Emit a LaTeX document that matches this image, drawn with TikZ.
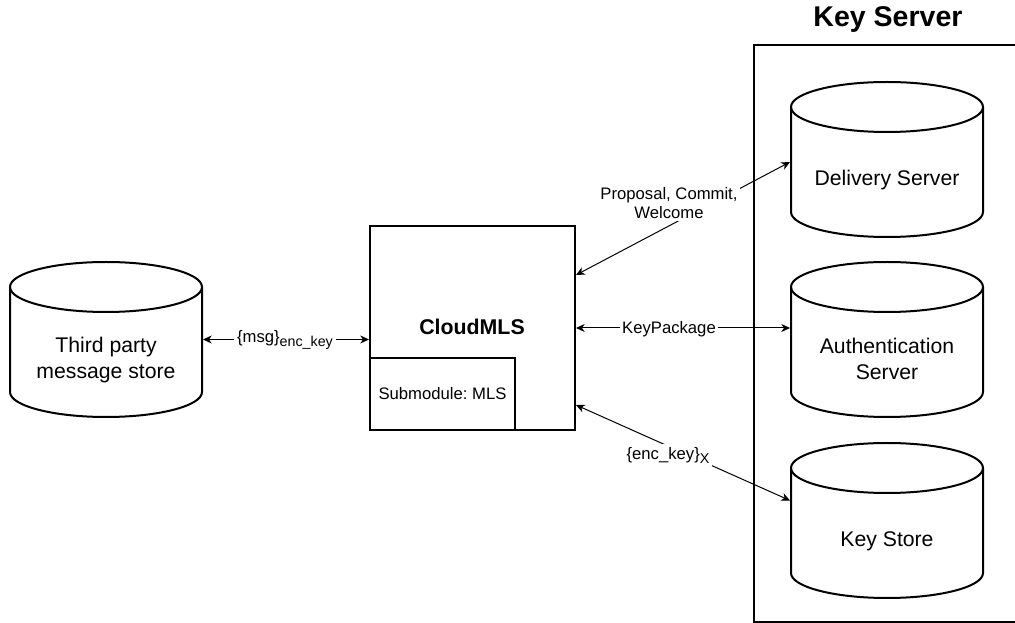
\documentclass[tikz,border=0pt]{standalone}
\usepackage{fontspec}
\setmainfont{Liberation Sans}
\usetikzlibrary{arrows.meta,calc}
\frenchspacing
\newcommand\dbcyl[3]{%
  \draw[shapeline, fill=white] (#1-96,#2+25) -- (#1-96,#3-25)
    arc[start angle=180,end angle=0,x radius=72pt,y radius=18.75pt]
    -- (#1+96,#2+25)
    arc[start angle=0,end angle=-180,x radius=72pt,y radius=18.75pt] -- cycle;
  \draw[shapeline] (#1-96,#2+25) arc[start angle=180,end angle=0,x radius=72pt,y radius=18.75pt];
}
\newcommand\lowsub[1]{\raisebox{-3pt}{\fontsize{10.7}{12}\selectfont #1}}
\begin{document}
\begin{tikzpicture}[x=0.75pt,y=0.75pt,yscale=-1,
  shapeline/.style={line width=1.5pt, draw=black},
  conn/.style={line width=0.75pt, {Stealth[length=6.5pt,width=6pt,inset=2pt]}-{Stealth[length=6.5pt,width=6pt,inset=2pt]}},
  lbl/.style={fill=white, inner sep=2pt, align=center, font=\fontsize{12.5}{14.5}\selectfont},
  cylbox/.style={minimum width=144pt, minimum height=116.25pt, inner sep=0pt, outer sep=0.75pt},
  cyltext/.style={align=center, font=\fontsize{15.9}{19.5}\selectfont}]
\useasboundingbox (0,0) rectangle (1015,623);

% Key Server container
\draw[shapeline] (1017,45) -- (754,45) -- (754,622) -- (1017,622);
\node[font=\bfseries\fontsize{21.4}{24}\selectfont, anchor=base] (kstitle) at (888,27) {Key Server};

% cylinders
\dbcyl{106}{262}{417}
\dbcyl{887}{82}{237}
\dbcyl{887}{262}{417}
\dbcyl{887}{443}{598}
\node[cylbox] (tp) at (106,339.5) {};
\node[cylbox] (ds) at (887,159.5) {};
\node[cylbox] (as) at (887,339.5) {};
\node[cylbox] (ks) at (887,520.5) {};
\node[cyltext] (tptext) at (106,360) {Third party\\message store};
\node[cyltext] (dstext) at (887,180) {Delivery Server};
\node[cyltext] (astext) at (887,359) {Authentication\\Server};
\node[cyltext] (kstext) at (887,541) {Key Store};

% CloudMLS
\node[shapeline, minimum width=153.75pt, minimum height=153pt, inner sep=0pt] (cloud) at (472.5,328) {};
\node[font=\bfseries\fontsize{16}{19}\selectfont, anchor=base] (cloudlbl) at (472,335) {CloudMLS};
\node[shapeline, minimum width=108.75pt, minimum height=54pt, inner sep=0pt, font=\fontsize{12.5}{15}\selectfont] (sub) at (442.5,394) {Submodule: MLS};

% connectors
\draw[conn] (tp.east) -- (tp.east -| cloud.west);
\draw[conn] ($(cloud.east)+(0,-53)$) -- ($(ds.west)+(0,2.5)$);
\draw[conn] (cloud.east) -- (cloud.east -| as.west);
\draw[conn] ($(cloud.east)+(0,77)$) -- ($(ks.west)+(0,-20)$);

% labels
\node[lbl] (l1) at (285,340) {\{msg\}\lowsub{enc\_key}};
\node[lbl] (l2) at (669,203) {Proposal, Commit,\\Welcome};
\node[lbl] (l3) at (669,329) {KeyPackage};
\node[lbl] (l4) at (668,455) {\{enc\_key\}\lowsub{X}};
\end{tikzpicture}
\end{document}
